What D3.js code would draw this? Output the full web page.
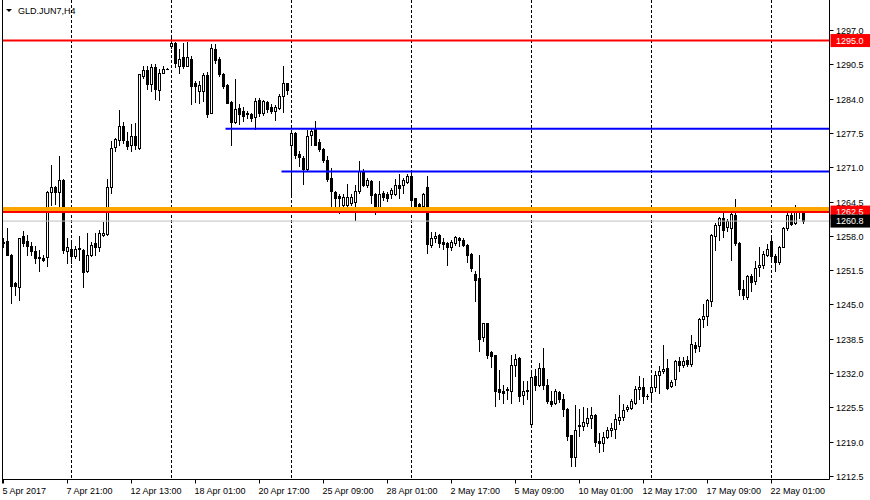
<!DOCTYPE html>
<html><head><meta charset="utf-8">
<script src="https://cdn.jsdelivr.net/npm/d3@7"></script>
<style>
html,body{margin:0;padding:0;background:#fff;}
svg{display:block;}
text{font-family:"Liberation Sans",Arial,sans-serif;font-size:9px;fill:#000;}
</style></head><body><svg id="c" width="870" height="500"></svg>
<script>
const symbolTitle = "GLD.JUN7,H4";

const open = [
1256.6,1257.0,1254.4,1249.0,1248.4,1257.9,1257.0,1256.1,1255.1,1253.8,
1253.8,1253.9,1266.4,1267.2,1266.4,1268.5,1255.2,1255.6,1254.2,1255.7,
1255.4,1251.3,1254.4,1256.7,1255.9,1258.2,1258.3,1267.3,1274.9,1276.1,
1278.8,1275.9,1275.2,1276.9,1274.7,1288.3,1289.4,1286.7,1289.9,1285.6,
1288.9,1289.7,1293.9,1294.6,1290.1,1291.8,1290.2,1291.6,1286.9,1285.4,
1285.4,1288.4,1281.3,1293.4,1291.6,1288.6,1286.5,1283.4,1279.5,1282.3,
1281.7,1281.3,1281.0,1280.6,1283.7,1281.3,1283.4,1282.5,1281.7,1282.3,
1284.5,1286.9,1275.3,1277.4,1273.6,1272.8,1270.6,1277.2,1278.2,1275.7,
1274.5,1272.4,1269.0,1266.3,1265.5,1263.8,1263.8,1264.3,1264.4,1266.5,
1270.3,1267.6,1268.4,1265.9,1262.9,1266.1,1265.9,1265.9,1266.0,1267.6,
1267.6,1268.2,1269.4,1265.1,1264.0,1263.6,1267.3,1256.3,1257.6,1258.1,
1256.8,1256.7,1255.8,1256.6,1257.5,1257.2,1256.3,1254.5,1250.7,1250.1,
1238.9,1241.4,1236.0,1235.5,1228.9,1228.6,1228.7,1228.6,1233.6,1234.9,
1227.9,1228.6,1222.4,1231.5,1229.8,1233.0,1229.8,1226.8,1226.4,1228.4,
1227.0,1225.1,1220.2,1216.1,1221.9,1221.9,1222.5,1223.4,1224.0,1219.1,
1218.7,1219.9,1221.2,1221.4,1223.1,1223.7,1225.1,1225.4,1226.4,1228.9,
1229.4,1227.6,1228.4,1229.4,1231.6,1232.3,1233.0,1229.5,1230.9,1234.3,
1233.6,1234.5,1233.8,1237.4,1237.1,1242.2,1242.9,1245.6,1258.0,1260.0,
1261.3,1259.7,1259.4,1261.9,1256.7,1247.9,1246.5,1250.3,1249.4,1252.1,
1252.4,1254.4,1257.0,1254.2,1253.0,1255.9,1259.4,1261.9,1260.4,1262.6,
1262.6];
const high = [
1257.6,1259.4,1254.5,1249.2,1257.6,1258.9,1258.2,1256.8,1256.0,1255.4,
1254.4,1266.5,1271.4,1267.4,1273.1,1268.7,1257.6,1257.3,1256.0,1258.0,
1255.6,1258.6,1256.8,1258.5,1259.2,1260.7,1268.8,1275.9,1276.6,1281.8,
1279.5,1277.6,1279.1,1279.3,1288.7,1290.1,1290.1,1290.5,1290.5,1289.6,
1290.2,1289.8,1295.4,1294.7,1293.4,1294.6,1294.7,1292.1,1287.3,1287.3,
1288.9,1289.0,1294.3,1294.3,1291.8,1288.9,1286.7,1283.6,1287.7,1282.9,
1282.5,1281.7,1281.3,1284.2,1284.2,1283.8,1283.6,1283.0,1282.7,1284.9,
1290.2,1287.0,1278.0,1277.6,1274.1,1273.1,1278.0,1278.3,1279.8,1276.3,
1274.7,1273.1,1270.9,1266.5,1265.9,1265.9,1267.8,1265.9,1267.6,1272.2,
1270.6,1268.9,1268.6,1266.2,1268.4,1266.5,1266.3,1267.1,1268.8,1269.7,
1269.0,1269.7,1270.5,1265.2,1264.2,1266.2,1269.3,1258.8,1258.8,1258.3,
1257.5,1256.8,1257.3,1257.9,1257.7,1257.5,1256.4,1254.8,1251.3,1254.3,
1241.5,1241.5,1236.2,1235.5,1232.6,1229.8,1229.4,1235.5,1235.6,1235.1,
1230.5,1230.5,1232.0,1232.7,1234.0,1236.8,1230.8,1228.6,1228.9,1228.6,
1228.0,1225.4,1220.3,1225.9,1225.1,1225.6,1225.4,1225.6,1224.2,1220.7,
1220.8,1221.8,1222.6,1224.3,1227.8,1226.1,1225.9,1227.0,1229.5,1231.5,
1231.0,1228.1,1231.7,1232.4,1233.3,1237.4,1234.6,1230.7,1234.4,1235.1,
1235.0,1235.2,1239.2,1237.8,1242.5,1245.0,1246.1,1258.3,1260.4,1261.6,
1263.2,1261.2,1262.5,1265.0,1256.8,1249.7,1250.5,1250.7,1253.2,1255.8,
1255.1,1256.4,1258.0,1254.5,1256.1,1259.7,1262.5,1262.9,1263.8,1263.2,
1262.7];
const low = [
1255.9,1254.3,1245.3,1246.7,1245.8,1256.0,1254.4,1254.4,1252.8,1251.3,
1253.2,1252.3,1263.9,1264.0,1263.6,1254.8,1252.9,1252.8,1253.8,1253.5,
1248.4,1251.1,1254.2,1254.4,1255.2,1258.0,1258.2,1266.2,1274.1,1275.2,
1275.5,1274.4,1274.1,1274.4,1274.4,1288.0,1285.8,1285.4,1283.9,1283.7,
1288.8,1289.6,1293.6,1289.9,1288.8,1289.8,1290.1,1282.9,1283.4,1283.2,
1283.5,1280.6,1281.2,1290.8,1288.3,1286.1,1283.1,1275.3,1279.3,1279.1,
1279.8,1280.4,1279.8,1278.2,1280.8,1280.9,1281.5,1281.2,1280.0,1282.1,
1281.5,1284.8,1265.8,1272.8,1271.2,1267.8,1270.5,1275.3,1275.2,1274.1,
1271.9,1268.4,1263.0,1263.6,1262.4,1263.0,1263.7,1263.8,1261.0,1266.2,
1267.4,1267.2,1264.3,1262.1,1262.7,1264.8,1264.6,1265.1,1265.7,1265.2,
1266.2,1268.1,1262.7,1263.2,1262.9,1263.3,1254.8,1255.9,1256.8,1255.8,
1255.6,1252.5,1255.4,1256.2,1256.1,1256.1,1253.0,1251.3,1245.6,1236.2,
1238.1,1234.9,1233.2,1225.7,1227.1,1226.3,1227.0,1226.4,1231.4,1226.7,
1226.1,1227.0,1222.4,1228.8,1229.5,1228.9,1226.4,1225.7,1226.1,1226.6,
1223.8,1219.4,1214.4,1214.3,1220.0,1221.3,1221.9,1221.6,1218.2,1217.0,
1217.2,1219.7,1220.0,1219.7,1222.3,1223.2,1224.8,1225.1,1226.1,1227.0,
1226.4,1227.1,1226.7,1228.6,1228.3,1232.1,1229.0,1229.3,1229.8,1232.4,
1233.1,1233.3,1233.4,1235.9,1236.2,1240.8,1241.2,1244.8,1255.4,1257.3,
1257.7,1258.9,1253.5,1256.2,1246.7,1246.0,1246.0,1247.5,1248.8,1250.3,
1252.0,1254.2,1253.2,1251.3,1252.6,1255.8,1259.2,1260.0,1260.2,1261.4,
1260.4];
const close = [
1256.9,1254.4,1248.5,1248.5,1257.5,1256.7,1256.1,1255.1,1253.8,1253.9,
1253.4,1266.4,1267.3,1266.4,1268.5,1255.4,1255.9,1254.2,1255.6,1255.5,
1251.1,1254.3,1256.2,1255.9,1258.5,1258.5,1267.2,1274.7,1276.4,1278.8,
1276.2,1275.1,1276.9,1275.2,1288.6,1289.4,1286.7,1289.9,1285.8,1288.9,
1289.7,1289.7,1294.6,1290.8,1291.6,1290.1,1291.8,1286.3,1286.4,1286.5,
1288.4,1281.0,1293.5,1291.3,1288.6,1286.4,1283.2,1279.5,1282.1,1281.0,
1280.8,1281.0,1280.4,1283.6,1281.3,1283.6,1282.0,1281.7,1282.5,1284.5,
1286.9,1285.6,1277.4,1273.4,1273.0,1270.6,1277.0,1277.8,1275.3,1274.4,
1272.4,1268.7,1266.5,1265.2,1265.2,1265.4,1265.4,1265.4,1266.5,1270.3,
1267.6,1268.6,1265.7,1262.9,1265.9,1265.4,1265.1,1266.6,1267.6,1267.0,
1268.6,1269.3,1264.8,1263.7,1263.3,1265.9,1256.4,1257.5,1258.0,1256.7,
1256.4,1255.8,1256.8,1257.7,1257.2,1256.3,1254.4,1252.0,1249.7,1238.4,
1241.4,1235.5,1235.2,1228.6,1228.4,1228.3,1228.9,1233.6,1234.7,1227.6,
1228.6,1228.7,1231.3,1229.8,1233.0,1229.8,1226.7,1226.1,1228.6,1227.0,
1225.1,1220.0,1216.1,1221.3,1222.2,1222.8,1223.4,1224.0,1218.9,1218.7,
1219.9,1221.3,1221.5,1223.3,1223.7,1225.0,1225.6,1226.7,1229.0,1229.4,
1227.6,1227.6,1229.4,1231.7,1232.3,1232.8,1229.2,1230.3,1234.3,1233.5,
1234.3,1233.8,1237.6,1236.8,1242.3,1242.9,1245.8,1258.1,1260.0,1261.4,
1259.2,1260.8,1262.1,1256.7,1247.9,1246.7,1250.3,1249.2,1251.9,1252.4,
1254.5,1255.6,1254.2,1253.0,1255.9,1259.4,1261.9,1260.2,1262.5,1262.7,
1260.8];

const timeLabels = ["5 Apr 2017","7 Apr 21:00","12 Apr 13:00","18 Apr 01:00","20 Apr 17:00",
  "25 Apr 09:00","28 Apr 01:00","2 May 17:00","5 May 09:00","10 May 01:00",
  "12 May 17:00","17 May 09:00","22 May 01:00"];
const timeLabelIdx = [0,16,32,48,64,80,96,112,128,144,160,176,192];
const separatorIdx = [17,42,72,102,132,162,192];
const priceTicks = [1297.0,1290.5,1284.0,1277.5,1271.0,1264.5,1258.0,1251.5,1245.0,1238.5,1232.0,1225.5,1219.0,1212.5];

const resistanceLevel = 1295.0;
const zoneLevel = 1263.0;
const supportLevel = 1262.5;
const bidPrice = 1260.8;
const blueLevels = [1278.3, 1270.2];
const blueStartIdx = [56, 70];

const svg = d3.select("#c");
const W = 870, H = 500;
const plotL = 2.5, plotR = 829.5, plotB = 479.5;

const x = d3.scaleLinear().domain([0, 206.5]).range([3.5, 829.5]);
const y = d3.scaleLinear().domain([1212.5, 1297.0]).range([476, 30]);
const py = v => Math.round(y(v));

svg.append("rect").attr("width", W).attr("height", H).attr("fill", "#fff");

// separators (dashed)
svg.append("g").selectAll("line").data(separatorIdx).join("line")
  .attr("x1", d => x(d)).attr("x2", d => x(d))
  .attr("y1", 0).attr("y2", plotB)
  .attr("stroke", "#000").attr("stroke-width", 1).attr("stroke-dasharray", "3,2");

// candles
const data = open.map((o, i) => ({i, o, h: high[i], l: low[i], c: close[i]}));
const cg = svg.append("g");
data.forEach(d => {
  const cx = x(d.i);
  const yh = py(d.h), yl = py(d.l), yo = py(d.o), yc = py(d.c);
  cg.append("line").attr("x1", cx).attr("x2", cx).attr("y1", yh).attr("y2", yl + 1)
    .attr("stroke", "#000").attr("stroke-width", 1);
  const top = Math.min(yo, yc), bot = Math.max(yo, yc);
  if (bot - top < 1) {
    cg.append("line").attr("x1", cx - 1.5).attr("x2", cx + 1.5)
      .attr("y1", top + 0.5).attr("y2", top + 0.5).attr("stroke", "#000").attr("stroke-width", 1);
  } else {
    cg.append("rect").attr("x", cx - 1).attr("y", top + 0.5).attr("width", 2).attr("height", bot - top)
      .attr("fill", d.c >= d.o ? "#fff" : "#000").attr("stroke", "#000").attr("stroke-width", 1);
  }
});

// horizontal objects
const hl = (price, color, width, x0) => {
  const yy = y(price);
  svg.append("line").attr("x1", x0).attr("x2", plotR).attr("y1", yy).attr("y2", yy)
    .attr("stroke", color).attr("stroke-width", width);
};
hl(bidPrice, "#c0c0c0", 1, plotL);
blueLevels.forEach((p, k) => hl(p, "#0000ff", 2, x(blueStartIdx[k]) - 2));
hl(resistanceLevel, "#ff0000", 2, plotL);
hl(zoneLevel, "#ffa500", 5, plotL);
hl(supportLevel, "#ff0000", 2, plotL);

// frame
svg.append("line").attr("x1", plotL).attr("x2", plotL).attr("y1", 0).attr("y2", plotB + 4).attr("stroke", "#000");
svg.append("line").attr("x1", plotR).attr("x2", plotR).attr("y1", 0).attr("y2", plotB).attr("stroke", "#000");
svg.append("line").attr("x1", plotL).attr("x2", plotR).attr("y1", plotB).attr("y2", plotB).attr("stroke", "#000");

// right axis
const ya = svg.append("g");
priceTicks.forEach(t => {
  const yy = py(t) + 0.5;
  ya.append("line").attr("x1", plotR).attr("x2", plotR + 4).attr("y1", yy).attr("y2", yy).attr("stroke", "#000");
  ya.append("text").attr("x", 836).attr("y", yy).attr("dy", "0.35em").text(t.toFixed(1));
});

// price tags
const tag = (price, bg) => {
  const yy = y(price);
  svg.append("rect").attr("x", plotR + 1).attr("y", yy - 6.5).attr("width", W - plotR).attr("height", 13).attr("fill", bg);
  svg.append("text").attr("x", 836).attr("y", yy).attr("dy", "0.35em").style("fill", "#fff").text(price.toFixed(1));
};
tag(resistanceLevel, "#ff0000");
tag(supportLevel, "#ff0000");
tag(bidPrice, "#000");

// time axis
const xa = svg.append("g");
timeLabelIdx.forEach((idx, k) => {
  const xx = x(idx);
  xa.append("line").attr("x1", xx).attr("x2", xx).attr("y1", plotB).attr("y2", plotB + 4).attr("stroke", "#000");
  xa.append("text").attr("x", xx - 1).attr("y", 494).text(timeLabels[k]);
});

// title
svg.append("path").attr("d", "M6,9L12,9L9,12Z").attr("fill", "#000");
svg.append("text").attr("x", 18).attr("y", 13.5).style("font-size", "9px").text(symbolTitle);
</script></body></html>
